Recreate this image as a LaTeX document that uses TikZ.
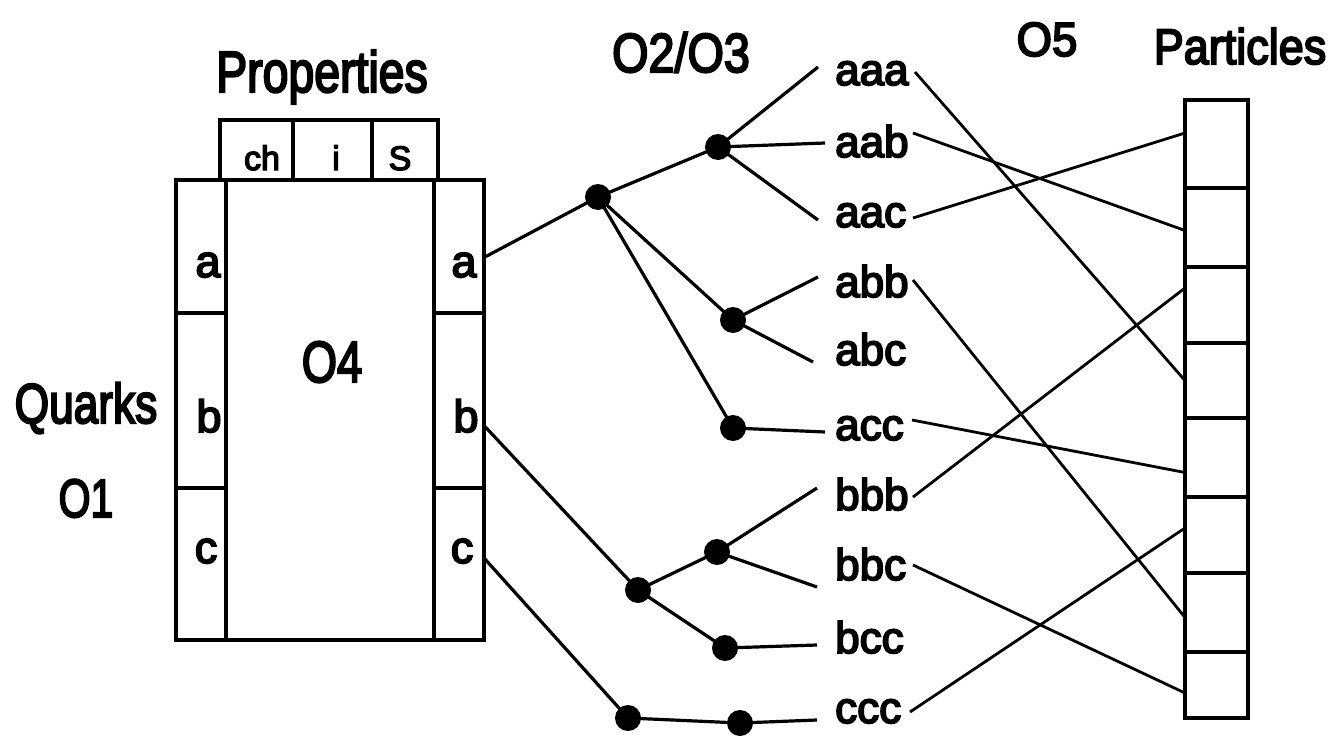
\documentclass[tikz,border=0pt]{standalone}
\usepackage{fontspec}
\usepackage{graphicx}
\setmainfont{Liberation Sans}[FakeBold=4]
\usetikzlibrary{calc}
\begin{document}
\begin{tikzpicture}[x=1pt,y=-1pt,
  cell/.style={draw,line width=3.2pt,inner sep=0pt,outer sep=0pt,anchor=north west},
  dot/.style={circle,fill=black,inner sep=0pt,minimum size=26pt},
  tree/.style={line width=3.2pt},
  cross/.style={line width=2.8pt},
  leaf/.style={anchor=base west,inner sep=0pt,font=\fontsize{44}{46}\selectfont},
  boxletter/.style={anchor=base,inner sep=0pt,font=\fontsize{45}{47}\selectfont},
  propletter/.style={anchor=base,inner sep=0pt,font=\fontsize{34}{36}\selectfont},
  head/.style={anchor=base,inner sep=0pt}]
\useasboundingbox (0,0) rectangle (1334,739);
\fill[white] (0,0) rectangle (1334,739);

% Quarks frame
\node[cell,minimum width=208pt,minimum height=460pt] (o4box) at (226,180) {};
\node[cell,minimum width=50pt,minimum height=133pt] (qa) at (176,180) {};
\node[cell,minimum width=50pt,minimum height=175pt] (qb) at (176,313) {};
\node[cell,minimum width=50pt,minimum height=152pt] (qc) at (176,488) {};
\node[cell,minimum width=50pt,minimum height=133pt] (ra) at (434,180) {};
\node[cell,minimum width=50pt,minimum height=175pt] (rb) at (434,313) {};
\node[cell,minimum width=50pt,minimum height=152pt] (rc) at (434,488) {};
% property cells
\node[cell,minimum width=73pt,minimum height=60pt] (pch) at (220,120) {};
\node[cell,minimum width=79pt,minimum height=60pt] (pi) at (293,120) {};
\node[cell,minimum width=66pt,minimum height=60pt] (ps) at (372,120) {};

\node[propletter] (tch) at (262,170) {ch};
\node[propletter] (ti) at (336,170) {i};
\node[propletter] (ts) at (400,170) {S};

\node[boxletter] (la) at (208,277) {a};
\node[boxletter] (lb) at (209,432) {b};
\node[boxletter] (lc) at (206,563) {c};
\node[boxletter] (xa) at (464,277) {a};
\node[boxletter] (xb) at (466,432) {b};
\node[boxletter] (xc) at (462,563) {c};

% headings
\node[head,font=\fontsize{58}{60}\selectfont] (props) at (322,92) {\scalebox{0.8}[1]{Properties}};
\node[head,font=\fontsize{56}{58}\selectfont] (quarks) at (86,423) {\scalebox{0.79}[1]{Quarks}};
\node[head,font=\fontsize{54}{56}\selectfont] (o1) at (86,517) {\scalebox{0.76}[1]{O1}};
\node[head,font=\fontsize{58}{60}\selectfont] (o4) at (332,382) {\scalebox{0.78}[1]{O4}};
\node[head,font=\fontsize{55}{57}\selectfont] (o23) at (681,72) {\scalebox{0.85}[1]{O2/O3}};
\node[head,font=\fontsize{48}{50}\selectfont] (o5) at (1047,56) {\scalebox{0.95}[1]{O5}};
\node[head,font=\fontsize{50}{52}\selectfont] (parts) at (1240,64) {\scalebox{0.9}[1]{Particles}};

% particle boxes
\node[cell,minimum width=63pt,minimum height=88pt] (p1) at (1185,100) {};
\node[cell,minimum width=63pt,minimum height=79pt] (p2) at (1185,188) {};
\node[cell,minimum width=63pt,minimum height=76pt] (p3) at (1185,267) {};
\node[cell,minimum width=63pt,minimum height=75pt] (p4) at (1185,343) {};
\node[cell,minimum width=63pt,minimum height=79pt] (p5) at (1185,418) {};
\node[cell,minimum width=63pt,minimum height=76pt] (p6) at (1185,497) {};
\node[cell,minimum width=63pt,minimum height=79pt] (p7) at (1185,573) {};
\node[cell,minimum width=63pt,minimum height=66pt] (p8) at (1185,652) {};

% leaves
\node[leaf] (aaa) at (835,85) {aaa};
\node[leaf] (aab) at (835,157) {aab};
\node[leaf] (aac) at (835,227) {aac};
\node[leaf] (abb) at (835,297) {abb};
\node[leaf] (abc) at (835,365) {abc};
\node[leaf] (acc) at (835,440) {acc};
\node[leaf] (bbb) at (835,510) {bbb};
\node[leaf] (bbc) at (835,580) {bbc};
\node[leaf] (bcc) at (835,653) {bcc};
\node[leaf] (ccc) at (835,723) {ccc};

% dots
\node[dot] (d0) at (598,197) {};
\node[dot] (daa) at (718,147) {};
\node[dot] (dab) at (733,320) {};
\node[dot] (dac) at (733,428) {};
\node[dot] (db) at (638,590) {};
\node[dot] (dbb) at (717,552) {};
\node[dot] (dbc) at (725,648) {};
\node[dot] (dc) at (628,718) {};
\node[dot] (dcc) at (740,723) {};

% tree
\draw[tree] ($(ra.east)+(0,11)$) -- (d0.center);
\draw[tree] (d0.center) -- (daa.center);
\draw[tree] (d0.center) -- (dab.center);
\draw[tree] (d0.center) -- (dac.center);
\draw[tree] (daa.center) -- ($(aaa.base west)+(-17,-18)$);
\draw[tree] (daa.center) -- ($(aab.base west)+(-10,-14)$);
\draw[tree] (daa.center) -- ($(aac.base west)+(-17,-7)$);
\draw[tree] (dab.center) -- ($(abb.base west)+(-17,-20)$);
\draw[tree] (dab.center) -- ($(abc.base west)+(-22,-3)$);
\draw[tree] (dac.center) -- ($(acc.base west)+(-10,-8)$);
\draw[tree] ($(rb.east)+(0,25)$) -- (db.center);
\draw[tree] (db.center) -- (dbb.center);
\draw[tree] (db.center) -- (dbc.center);
\draw[tree] (dbb.center) -- ($(bbb.base west)+(-18,-22)$);
\draw[tree] (dbb.center) -- ($(bbc.base west)+(-18,7)$);
\draw[tree] (dbc.center) -- ($(bcc.base west)+(-18,-8)$);
\draw[tree] ($(rc.east)+(0,-6)$) -- (dc.center);
\draw[tree] (dc.center) -- (dcc.center);
\draw[tree] (dcc.center) -- ($(ccc.base west)+(-18,-3)$);

% crossings to particles
\draw[cross] ($(aaa.base west)+(80,-13)$) -- ($(p4.west)+(0,0)$);
\draw[cross] ($(aab.base west)+(78,-24)$) -- ($(p2.west)+(0,3)$);
\draw[cross] ($(aac.base west)+(78,-9)$) -- ($(p1.west)+(0,-11)$);
\draw[cross] ($(abb.base west)+(78,-17)$) -- ($(p7.west)+(0,5)$);
\draw[cross] ($(acc.base west)+(77,-20)$) -- ($(p5.west)+(0,15)$);
\draw[cross] ($(bbb.base west)+(78,-13)$) -- ($(p3.west)+(0,-17)$);
\draw[cross] ($(bbc.base west)+(78,-15)$) -- ($(p8.west)+(0,8)$);
\draw[cross] ($(ccc.base west)+(75,-11)$) -- ($(p6.west)+(0,-7)$);
\end{tikzpicture}
\end{document}
